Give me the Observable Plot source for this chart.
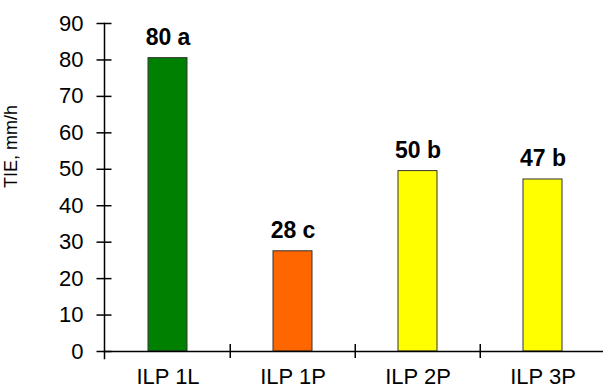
<!DOCTYPE html>
<html>
<head>
<meta charset="utf-8">
<script src="https://cdn.jsdelivr.net/npm/d3@7"></script>
<script src="https://cdn.jsdelivr.net/npm/@observablehq/plot@0.6"></script>
<style>
  html, body { margin: 0; padding: 0; background: #fff; }
  svg { display: block; }
</style>
</head>
<body>
<div id="chart"></div>
<script>
const categories = ["ILP 1L", "ILP 1P", "ILP 2P", "ILP 3P"];
const values = [80.5, 27.5, 49.5, 47.2];
const valueLabels = ["80 a", "28 c", "50 b", "47 b"];
const colors = ["#008000", "#FF6600", "#FFFF00", "#FFFF00"];
const yTicks = [0, 10, 20, 30, 40, 50, 60, 70, 80, 90];
const yTitle = "TIE, mm/h";

const data = categories.map((c, i) => ({cat: c, value: values[i], label: valueLabels[i], color: colors[i]}));

const W = 603, H = 389;
const mL = 104, mT = 23, mB = 38;
const xRange = [104, 606];
const bandW = (xRange[1] - xRange[0]) / categories.length;
const font = "'Liberation Sans', Arial, sans-serif";

const chart = Plot.plot({
  width: W,
  height: H,
  marginLeft: mL,
  marginRight: 0,
  marginTop: mT,
  marginBottom: mB,
  style: {fontFamily: font, color: "#000", background: "#fff", overflow: "visible"},
  x: {domain: categories, range: xRange, padding: 0, label: null},
  y: {domain: [0, 90], label: null},
  marks: [
    Plot.barY(data, {x: "cat", y: "value", fill: "color", stroke: "#333", strokeWidth: 1, insetLeft: 43, insetRight: 43}),
    Plot.frame({anchor: "left", stroke: "#000", strokeWidth: 1.5, insetBottom: -7}),
    Plot.frame({anchor: "bottom", stroke: "#000", strokeWidth: 1.5}),
    Plot.ruleX(categories.slice(1), {x: d => d, dx: -bandW / 2, stroke: "#000", strokeWidth: 1.5, insetTop: 321, insetBottom: -7}),
    Plot.axisY({ticks: yTicks, tickSize: 15, dx: 7.5, text: null, stroke: "#000", strokeWidth: 1.5}),
    Plot.axisY({ticks: yTicks, tickSize: 0, tickPadding: 21, fontSize: 22, tickFormat: d => String(d), fill: "#000", label: null}),
    Plot.axisX({tickSize: 0, tickPadding: 17, fontSize: 22, fill: "#000", label: null}),
    Plot.text(data, {x: "cat", y: "value", text: "label", lineAnchor: "bottom", dy: -13, fontSize: 23, fontWeight: "bold", fill: "#000"}),
    Plot.text([yTitle], {frameAnchor: "left", rotate: -90, textAnchor: "middle", dx: -93, dy: -41, fontSize: 18, fill: "#000"})
  ]
});
document.getElementById("chart").appendChild(chart);
</script>
</body>
</html>
